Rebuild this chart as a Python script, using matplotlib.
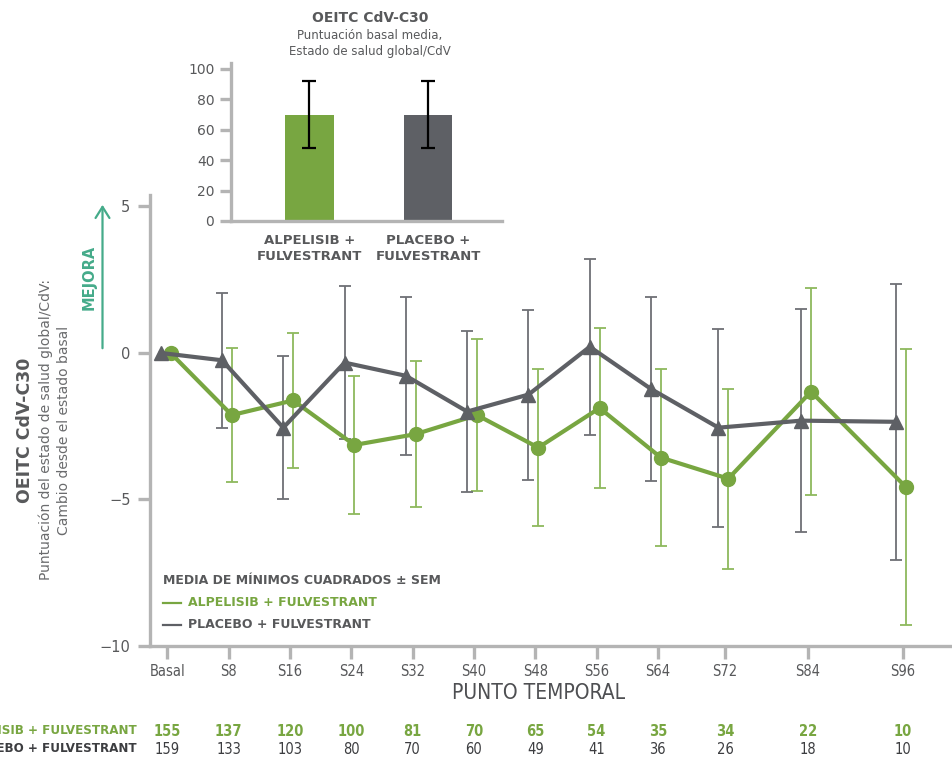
import numpy as np
import matplotlib
matplotlib.use("Agg")
import matplotlib.pyplot as plt
from matplotlib.lines import Line2D
from matplotlib.patches import FancyArrowPatch
from matplotlib import transforms

# ---- data ----
timepoints = ["Basal", "S8", "S16", "S24", "S32", "S40", "S48", "S56", "S64", "S72", "S84", "S96"]
alp_mean = [0.0, -2.12, -1.62, -3.14, -2.77, -2.12, -3.23, -1.88, -3.57, -4.29, -1.32, -4.58]
alp_sem = [0.0, 2.28, 2.31, 2.37, 2.50, 2.60, 2.67, 2.73, 3.01, 3.07, 3.52, 4.70]
pbo_mean = [0.0, -0.25, -2.55, -0.33, -0.78, -2.00, -1.42, 0.21, -1.23, -2.55, -2.31, -2.35]
pbo_sem = [0.0, 2.30, 2.45, 2.60, 2.70, 2.75, 2.90, 3.00, 3.15, 3.38, 3.80, 4.70]
n_alp = [155, 137, 120, 100, 81, 70, 65, 54, 35, 34, 22, 10]
n_pbo = [159, 133, 103, 80, 70, 60, 49, 41, 36, 26, 18, 10]

baseline_groups = ["ALPELISIB +\nFULVESTRANT", "PLACEBO +\nFULVESTRANT"]
baseline_mean = [70, 70]
baseline_sd = [22, 22]

# ---- layout ----
x_slots = np.array([0, 1, 2, 3, 4, 5, 6, 7, 8, 9.1, 10.45, 12.0])
dodge_pbo, dodge_alp = -0.11, 0.05

GREEN = "#78a641"
GREEN_ERR = "#8db95d"
GREY = "#5e6065"
GREY_ERR = "#6e7075"
SPINE = "#b4b4b4"
TEXT = "#58595b"
TEAL = "#45ab8a"

NARROW = ["Liberation Sans Narrow", "DejaVu Sans"]
NARROW_KW = dict(fontfamily=NARROW, fontstretch="condensed")

W, H = 952, 757
fig = plt.figure(figsize=(W / 100, H / 100), dpi=100)
fig.patch.set_facecolor("white")


def fx(x):
    return x / W


def fy(y):
    return 1 - y / H


# ---- main chart ----
ax = fig.add_axes([fx(150), fy(646), 1 - fx(150), (646 - 195) / H])
ax.set_xlim(-0.285, 12.8)
ax.set_ylim(-10, 5.39)

xa = x_slots + dodge_alp
xp = x_slots + dodge_pbo

ax.errorbar(xa[1:], alp_mean[1:], yerr=alp_sem[1:], fmt="none", ecolor=GREEN_ERR,
            elinewidth=1.3, capsize=4, capthick=1.3, zorder=2)
ax.errorbar(xp[1:], pbo_mean[1:], yerr=pbo_sem[1:], fmt="none", ecolor=GREY_ERR,
            elinewidth=1.3, capsize=4, capthick=1.3, zorder=2)
ax.plot(xa, alp_mean, color=GREEN, lw=3, marker="o", ms=10, zorder=3)
ax.plot(xp, pbo_mean, color=GREY, lw=3, marker="^", ms=10, zorder=4)

for side in ["top", "right"]:
    ax.spines[side].set_visible(False)
for side in ["left", "bottom"]:
    ax.spines[side].set_color(SPINE)
    ax.spines[side].set_linewidth(2.4)

ax.set_yticks([-10, -5, 0, 5])
ax.set_yticklabels(["\u221210", "\u22125", "0", "5"])
ax.set_xticks(x_slots)
ax.set_xticklabels(timepoints, **NARROW_KW)
ax.tick_params(axis="both", color=SPINE, width=2.4, length=9, labelcolor=TEXT, labelsize=10.5)
ax.tick_params(axis="y", pad=5)
ax.tick_params(axis="x", pad=4, labelsize=10.5)

# x axis title
fig.text(fx(539), fy(693), "PUNTO TEMPORAL", ha="center", va="center",
         fontsize=15, color="#4e4f52", **NARROW_KW)

# y axis titles
fig.text(fx(25), fy(430), "OEITC CdV-C30", rotation=90, ha="center", va="center",
         fontsize=12.5, fontweight="bold", color=TEXT)
fig.text(fx(46), fy(430), "Puntuación del estado de salud global/CdV:", rotation=90,
         ha="center", va="center", fontsize=10, color="#6a6b6d")
fig.text(fx(64), fy(430), "Cambio desde el estado basal", rotation=90,
         ha="center", va="center", fontsize=10, color="#6a6b6d")

# improvement arrow
arrow = FancyArrowPatch((fx(102.5), fy(351)), (fx(102.5), fy(202)),
                        transform=fig.transFigure, arrowstyle="->,head_length=8,head_width=5",
                        color=TEAL, lw=1.6, mutation_scale=1)
fig.add_artist(arrow)
fig.text(fx(89), fy(277), "MEJORA", rotation=90, ha="center", va="center",
         fontsize=10.5, fontweight="bold", color=TEAL)

# legend
fig.text(fx(163), fy(581), "MEDIA DE MÍNIMOS CUADRADOS ± SEM", ha="left", va="center",
         fontsize=9, fontweight="bold", color=TEXT)
fig.add_artist(Line2D([fx(163), fx(181)], [fy(603), fy(603)], color=GREEN, lw=1.6,
                      transform=fig.transFigure))
fig.text(fx(188), fy(603), "ALPELISIB + FULVESTRANT", ha="left", va="center",
         fontsize=9, fontweight="bold", color=GREEN)
fig.add_artist(Line2D([fx(163), fx(181)], [fy(625), fy(625)], color=GREY, lw=1.6,
                      transform=fig.transFigure))
fig.text(fx(188), fy(625), "PLACEBO + FULVESTRANT", ha="left", va="center",
         fontsize=9, fontweight="bold", color=TEXT)

# patients at risk
tr = transforms.blended_transform_factory(ax.transData, fig.transFigure)
for x, a, p in zip(x_slots, n_alp, n_pbo):
    ax.text(x, fy(731), str(a), transform=tr, ha="center", va="center", fontsize=10.5,
            color=GREEN, fontweight="bold", clip_on=False, **NARROW_KW)
    ax.text(x, fy(749), str(p), transform=tr, ha="center", va="center", fontsize=10.5,
            color="#3c3d40", clip_on=False, **NARROW_KW)
fig.text(fx(137), fy(731), "ALPELISIB + FULVESTRANT", ha="right", va="center",
         fontsize=9.5, color=GREEN, fontweight="bold", **NARROW_KW)
fig.text(fx(137), fy(749), "PLACEBO + FULVESTRANT", ha="right", va="center",
         fontsize=9.5, color="#3c3d40", fontweight="bold", **NARROW_KW)

# ---- inset: baseline scores ----
axi = fig.add_axes([fx(231), fy(221), fx(502) - fx(231), (221 - 63) / H])
axi.set_facecolor("none")
axi.bar([0, 1], baseline_mean, width=0.405, color=[GREEN, GREY], zorder=2)
axi.errorbar([0, 1], baseline_mean, yerr=baseline_sd, fmt="none", ecolor="black",
             elinewidth=1.6, capsize=5, capthick=1.6, zorder=3)
axi.set_xlim(-0.66, 1.62)
axi.set_ylim(0, 103.9)
axi.set_yticks([0, 20, 40, 60, 80, 100])
axi.set_xticks([])
for side in ["top", "right"]:
    axi.spines[side].set_visible(False)
for side in ["left", "bottom"]:
    axi.spines[side].set_color(SPINE)
    axi.spines[side].set_linewidth(2.4)
axi.tick_params(axis="y", color=SPINE, width=2.4, length=8, labelcolor=TEXT,
                labelsize=10, pad=4)

tri = transforms.blended_transform_factory(axi.transData, fig.transFigure)
for x, lab in zip([0, 1], baseline_groups):
    top, bottom = lab.split("\n")
    axi.text(x, fy(240), top, transform=tri, ha="center", va="center", fontsize=9.5,
             fontweight="bold", color=TEXT, clip_on=False)
    axi.text(x, fy(257), bottom, transform=tri, ha="center", va="center", fontsize=9.5,
             fontweight="bold", color=TEXT, clip_on=False)

fig.text(fx(370), fy(18), "OEITC CdV-C30", ha="center", va="center", fontsize=10,
         fontweight="bold", color=TEXT)
fig.text(fx(370), fy(36), "Puntuación basal media,", ha="center", va="center",
         fontsize=8.5, color=TEXT)
fig.text(fx(370), fy(51), "Estado de salud global/CdV", ha="center", va="center",
         fontsize=8.5, color=TEXT)

fig.savefig("out.png", dpi=100, facecolor="white")
